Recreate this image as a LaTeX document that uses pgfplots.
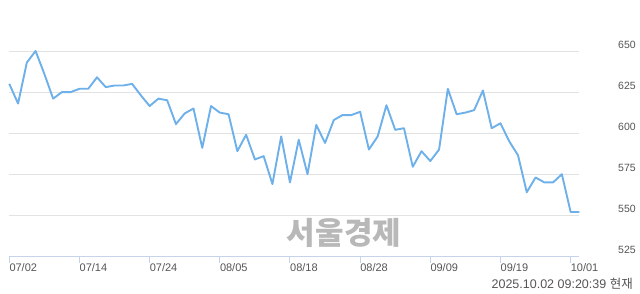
\documentclass[border=0pt]{standalone}
\usepackage{fontspec}
\setmainfont{Liberation Sans}
\newfontfamily\kr{Noto Sans CJK KR}
\usepackage{pgfplots}
\pgfplotsset{compat=1.18}
\definecolor{linec}{HTML}{6EB0EA}
\definecolor{gridc}{HTML}{E2E2E2}
\definecolor{axisc}{HTML}{C6D3EA}
\definecolor{txt}{HTML}{555555}
\definecolor{wm}{HTML}{B8B8B8}
\pgfplotstableread{
i v
0 630
1 618
2 643
3 650
4 636
5 621
6 625
7 625
8 627
9 627
10 634
11 628
12 629
13 629
14 630
15 623
16 616.5
17 621
18 620
19 605.5
20 612
21 615
22 591
23 616.5
24 612.5
25 611.5
26 589
27 599
28 584
29 586
30 569
31 598
32 570
33 596
34 575
35 605
36 594
37 608
38 611
39 611
40 613
41 590
42 598
43 617
44 602
45 603
46 579.5
47 589
48 583
49 590
50 627
51 611.5
52 612.5
53 614
54 626
55 603
56 606
57 595
58 586.5
59 564
60 573
61 570
62 570
63 575
64 552
65 552
}\prices
\begin{document}
\begin{tikzpicture}[x=1pt,y=1pt]
\path[use as bounding box] (0,0) rectangle (640,294);
\node[text=wm, font=\kr\bfseries\fontsize{31}{31}\selectfont] at (344,61) {서울경제};
\begin{axis}[
  at={(9.3pt,37.7pt)}, anchor=south west,
  scale only axis, width=570.1pt, height=221.7pt,
  xmin=0, xmax=65, ymin=525, ymax=660,
  clip=false,
  axis line style={draw=none},
  ymajorgrids, grid style={gridc, line width=1pt},
  ytick={525,550,575,600,625,650},
  yticklabel pos=right,
  ytick style={draw=none},
  yticklabel style={anchor=center, xshift=40.6pt, yshift=6pt, text=txt, font=\fontsize{10.5}{10.5}\selectfont},
  /pgf/number format/assume math mode=true,
  xtick={0,8,16,24,32,40,48,56,64},
  xticklabels={07/02,07/14,07/24,08/05,08/18,08/28,09/09,09/19,10/01},
  xtick pos=bottom, tick align=outside,
  major tick length=7pt,
  xtick style={axisc, line width=1pt},
  xticklabel style={anchor=north west, inner sep=0pt, text=txt, font=\fontsize{11}{11}\selectfont},
]
\draw[axisc, line width=1pt] (axis cs:0,525) -- (axis cs:65,525);
\addplot[linec, line width=1.9pt, no markers, line join=round] table[x=i, y=v] {\prices};
\end{axis}
\node[anchor=base east, text=txt, font=\fontsize{12.5}{12.5}\selectfont, inner sep=0pt] at (633,5) {2025.10.02 09:20:39 {\kr 현재}};
\end{tikzpicture}
\end{document}
